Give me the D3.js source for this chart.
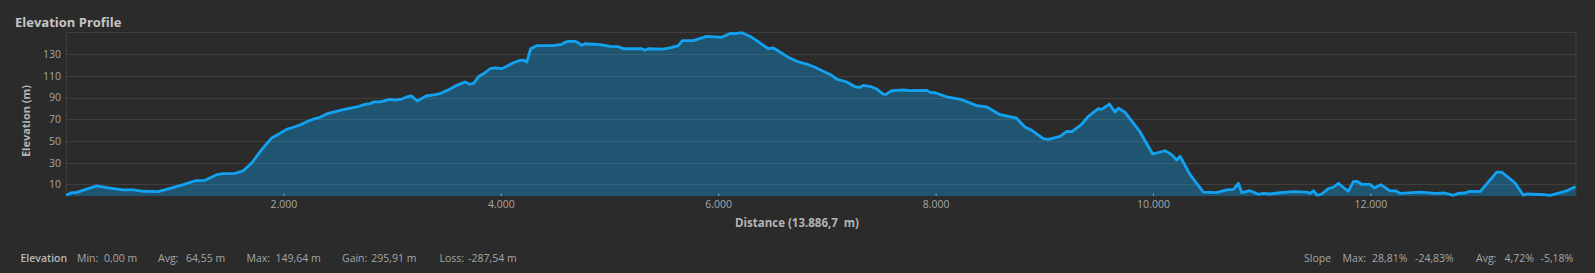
<!DOCTYPE html>
<html>
<head>
<meta charset="utf-8">
<script src="https://cdn.jsdelivr.net/npm/d3@7"></script>
<style>
  html, body { margin: 0; padding: 0; background: #2b2b2b; }
  svg { display: block; }
</style>
</head>
<body>
<div id="d3-container"></div>
<script>
// distance along the track (m) and elevation (m)
const distance = [0, 52, 92, 282, 405, 527, 619, 711, 849, 957, 1079, 1187, 1279, 1386, 1447, 1555, 1631, 1708, 1800, 1892,
  1938, 2030, 2091, 2153, 2229, 2291, 2337, 2413, 2551, 2674, 2751, 2797, 2827, 2889, 2981, 3027, 3088, 3134, 3180, 3232,
  3312, 3395, 3450, 3533, 3594, 3671, 3717, 3754, 3793, 3855, 3901, 3947, 4008, 4054, 4115, 4177, 4207, 4239, 4275, 4330,
  4483, 4561, 4591, 4621, 4683, 4713, 4745, 4775, 4913, 5005, 5081, 5127, 5296, 5327, 5357, 5495, 5557, 5633, 5670, 5771,
  5894, 6032, 6109, 6155, 6219, 6308, 6354, 6461, 6507, 6569, 6645, 6722, 6814, 6891, 6937, 7044, 7090, 7182, 7259, 7305,
  7335, 7412, 7458, 7519, 7544, 7596, 7703, 7765, 7918, 7949, 7995, 8102, 8240, 8378, 8470, 8593, 8746, 8770, 8822, 8884,
  8991, 9037, 9145, 9207, 9253, 9345, 9405, 9497, 9528, 9598, 9651, 9681, 9743, 9881, 9997, 10111, 10172, 10218, 10249, 10341,
  10463, 10586, 10678, 10739, 10785, 10817, 10893, 10970, 11016, 11077, 11138, 11291, 11414, 11445, 11475, 11512, 11552, 11613, 11659, 11705,
  11797, 11843, 11874, 11920, 11997, 12036, 12095, 12181, 12236, 12273, 12457, 12595, 12687, 12763, 12809, 12871, 12917, 13009, 13101, 13162,
  13208, 13331, 13407, 13438, 13591, 13653, 13714, 13806, 13886.7];
const elevation = [0, 2.4, 2.4, 8.6, 6.7, 4.9, 4.9, 3.7, 3.3, 6.4, 9.8, 13.4, 13.8, 19.0, 19.9, 20.2, 22.6, 29.7, 42.0, 52.7,
  55.2, 60.7, 62.6, 64.7, 68.4, 70.5, 71.8, 75.5, 78.8, 81.3, 83.7, 84.3, 85.9, 85.9, 88.3, 87.7, 88.6, 90.5, 91.4, 86.8,
  91.4, 92.6, 93.9, 97.8, 101.2, 104.3, 102.2, 103.3, 109.1, 112.8, 116.5, 117.2, 116.5, 118.7, 122.0, 124.2, 124.5, 122.7, 134.9, 137.7,
  137.7, 139.0, 140.8, 141.7, 141.7, 140.4, 138.0, 139.5, 138.6, 137.1, 136.8, 134.9, 134.9, 133.4, 134.9, 134.6, 135.6, 137.7, 142.3, 142.3,
  146.3, 145.4, 149.0, 148.7, 149.64, 145.4, 142.3, 134.9, 135.6, 131.9, 127.0, 123.3, 120.8, 117.8, 115.6, 110.4, 107.0, 104.3, 99.9, 99.4,
  101.2, 99.7, 97.8, 93.2, 92.9, 96.3, 96.9, 96.3, 96.6, 94.8, 94.4, 90.7, 88.0, 82.5, 81.3, 74.2, 71.1, 68.1, 62.9, 59.8,
  52.1, 51.5, 54.3, 58.9, 58.5, 65.6, 72.7, 79.7, 79.1, 84.0, 76.7, 80.1, 76.4, 58.3, 38.0, 41.0, 37.4, 32.5, 35.9, 19.0,
  3.0, 2.4, 4.9, 5.5, 11.0, 2.4, 4.2, 0.9, 1.8, 1.2, 2.1, 3.3, 3.0, 1.8, 4.2, 0, 1.2, 6.1, 7.4, 11.0,
  3.7, 12.5, 12.9, 10.1, 10.1, 6.7, 9.8, 4.0, 4.0, 1.8, 3.0, 1.8, 2.1, 0, 1.8, 2.1, 3.7, 3.3, 14.1, 21.4,
  21.4, 11.3, 0, 1.2, 0.6, 0, 1.5, 4.2, 7.9];

const yTicks = [10, 30, 50, 70, 90, 110, 130];
const xTicks = [2000, 4000, 6000, 8000, 10000, 12000];
const xTickLabels = ["2.000", "4.000", "6.000", "8.000", "10.000", "12.000"];

const totalDistance = 13886.7;
const elevStats = [["Min:", "0,00 m"], ["Avg:", "64,55 m"], ["Max:", "149,64 m"], ["Gain:", "295,91 m"], ["Loss:", "-287,54 m"]];
const slopeStats = [["Max:", "28,81%", "-24,83%"], ["Avg:", "4,72%", "-5,18%"]];

const w = 1595, h = 273;
const plotL = 66, plotR = 1575.5, plotT = 32, plotB = 196;
const font = "'Open Sans', 'Noto Sans', sans-serif";

const svg = d3.select("#d3-container").append("svg")
  .attr("width", w).attr("height", h)
  .style("background", "#2b2b2b");

const x = d3.scaleLinear().domain([0, totalDistance]).range([plotL, plotR]);
const y = d3.scaleLinear().domain([-0.65, 150.3]).range([plotB, plotT]);

svg.append("text")
  .attr("x", 15).attr("y", 27)
  .text("Elevation Profile")
  .style("fill", "#c4c4c4")
  .style("font-family", font)
  .style("font-weight", "bold")
  .style("font-size", "13px");

const pts = distance.map((d, i) => [d, elevation[i]]);

const area = d3.area().x(d => x(d[0])).y0(plotB).y1(d => y(d[1]));
const line = d3.line().x(d => x(d[0])).y(d => y(d[1]));

svg.append("path").datum(pts)
  .attr("d", area)
  .style("fill", "#205571");

// grid
svg.append("g")
  .selectAll("line")
  .data(yTicks)
  .join("line")
  .attr("x1", plotL).attr("x2", plotR + 0.5)
  .attr("y1", d => Math.round(y(d)) + 0.5).attr("y2", d => Math.round(y(d)) + 0.5)
  .style("stroke", "rgba(255,255,255,0.09)");

// frame
svg.append("path")
  .attr("d", `M${plotL + 0.5},${plotB}V${plotT + 0.5}H${plotR + 0.5}V${plotB}`)
  .style("fill", "none")
  .style("stroke", "rgba(255,255,255,0.09)");

svg.append("path").datum(pts)
  .attr("d", line)
  .style("fill", "none")
  .style("stroke", "#12a2f2")
  .style("stroke-width", 2.8)
  .style("stroke-linejoin", "round");

const yAxis = d3.axisLeft(y).tickValues(yTicks).tickSize(0).tickPadding(5);
const gy = svg.append("g").attr("transform", `translate(${plotL},0)`).call(yAxis);
gy.select(".domain").remove();
gy.selectAll("text")
  .style("fill", "#a6a6a6")
  .style("font-family", font)
  .style("font-size", "10.5px");

const xAxis = d3.axisBottom(x).tickValues(xTicks).tickSize(-2.5).tickPadding(5)
  .tickFormat((d, i) => xTickLabels[i]);
const gx = svg.append("g").attr("transform", `translate(0,${plotB})`).call(xAxis);
gx.select(".domain").remove();
gx.selectAll("line").style("stroke", "#8aa0b0");
gx.selectAll("text")
  .style("fill", "#a6a6a6")
  .style("font-family", font)
  .style("font-size", "10.5px");

svg.append("text")
  .attr("transform", "translate(30,121) rotate(-90)")
  .style("text-anchor", "middle")
  .text("Elevation (m)")
  .style("fill", "#b4b4b4")
  .style("font-family", font)
  .style("font-weight", "bold")
  .style("font-size", "11px");

svg.append("text")
  .attr("x", 797).attr("y", 227)
  .style("text-anchor", "middle")
  .text("Distance (13.886,7  m)")
  .style("white-space", "pre")
  .style("fill", "#b4b4b4")
  .style("font-family", font)
  .style("font-weight", "bold")
  .style("font-size", "11.5px");

// footer stats
const fy = 262;
function txt(xp, s, weight) {
  return svg.append("text")
    .attr("x", xp).attr("y", fy)
    .text(s)
    .style("fill", weight ? "#b8b8b8" : "#a6a6a6")
    .style("font-family", font)
    .style("font-weight", weight ? "600" : "normal")
    .style("font-size", "10.5px");
}
// label at its x, value at its x unless the label runs into it
function pair(lx, vx, label, value) {
  const t = txt(lx, label);
  const end = lx + t.node().getComputedTextLength() + 4;
  return txt(Math.max(vx, end), value);
}
txt(20.5, "Elevation", true);
const elevLabelX = [77, 158, 246.5, 342, 439.5];
const elevValueX = [104, 186, 275.5, 368.5, 468];
elevStats.forEach((s, i) => pair(elevLabelX[i], elevValueX[i], s[0], s[1]));

txt(1304, "Slope", false);
const slopeX = [[1342.5, 1372, 1415], [1476, 1504.5, 1540.5]];
slopeStats.forEach((s, i) => {
  const v = pair(slopeX[i][0], slopeX[i][1], s[0], s[1]);
  const end = +v.attr("x") + v.node().getComputedTextLength() + 4;
  txt(Math.max(slopeX[i][2], end), s[2]);
});
</script>
</body>
</html>
